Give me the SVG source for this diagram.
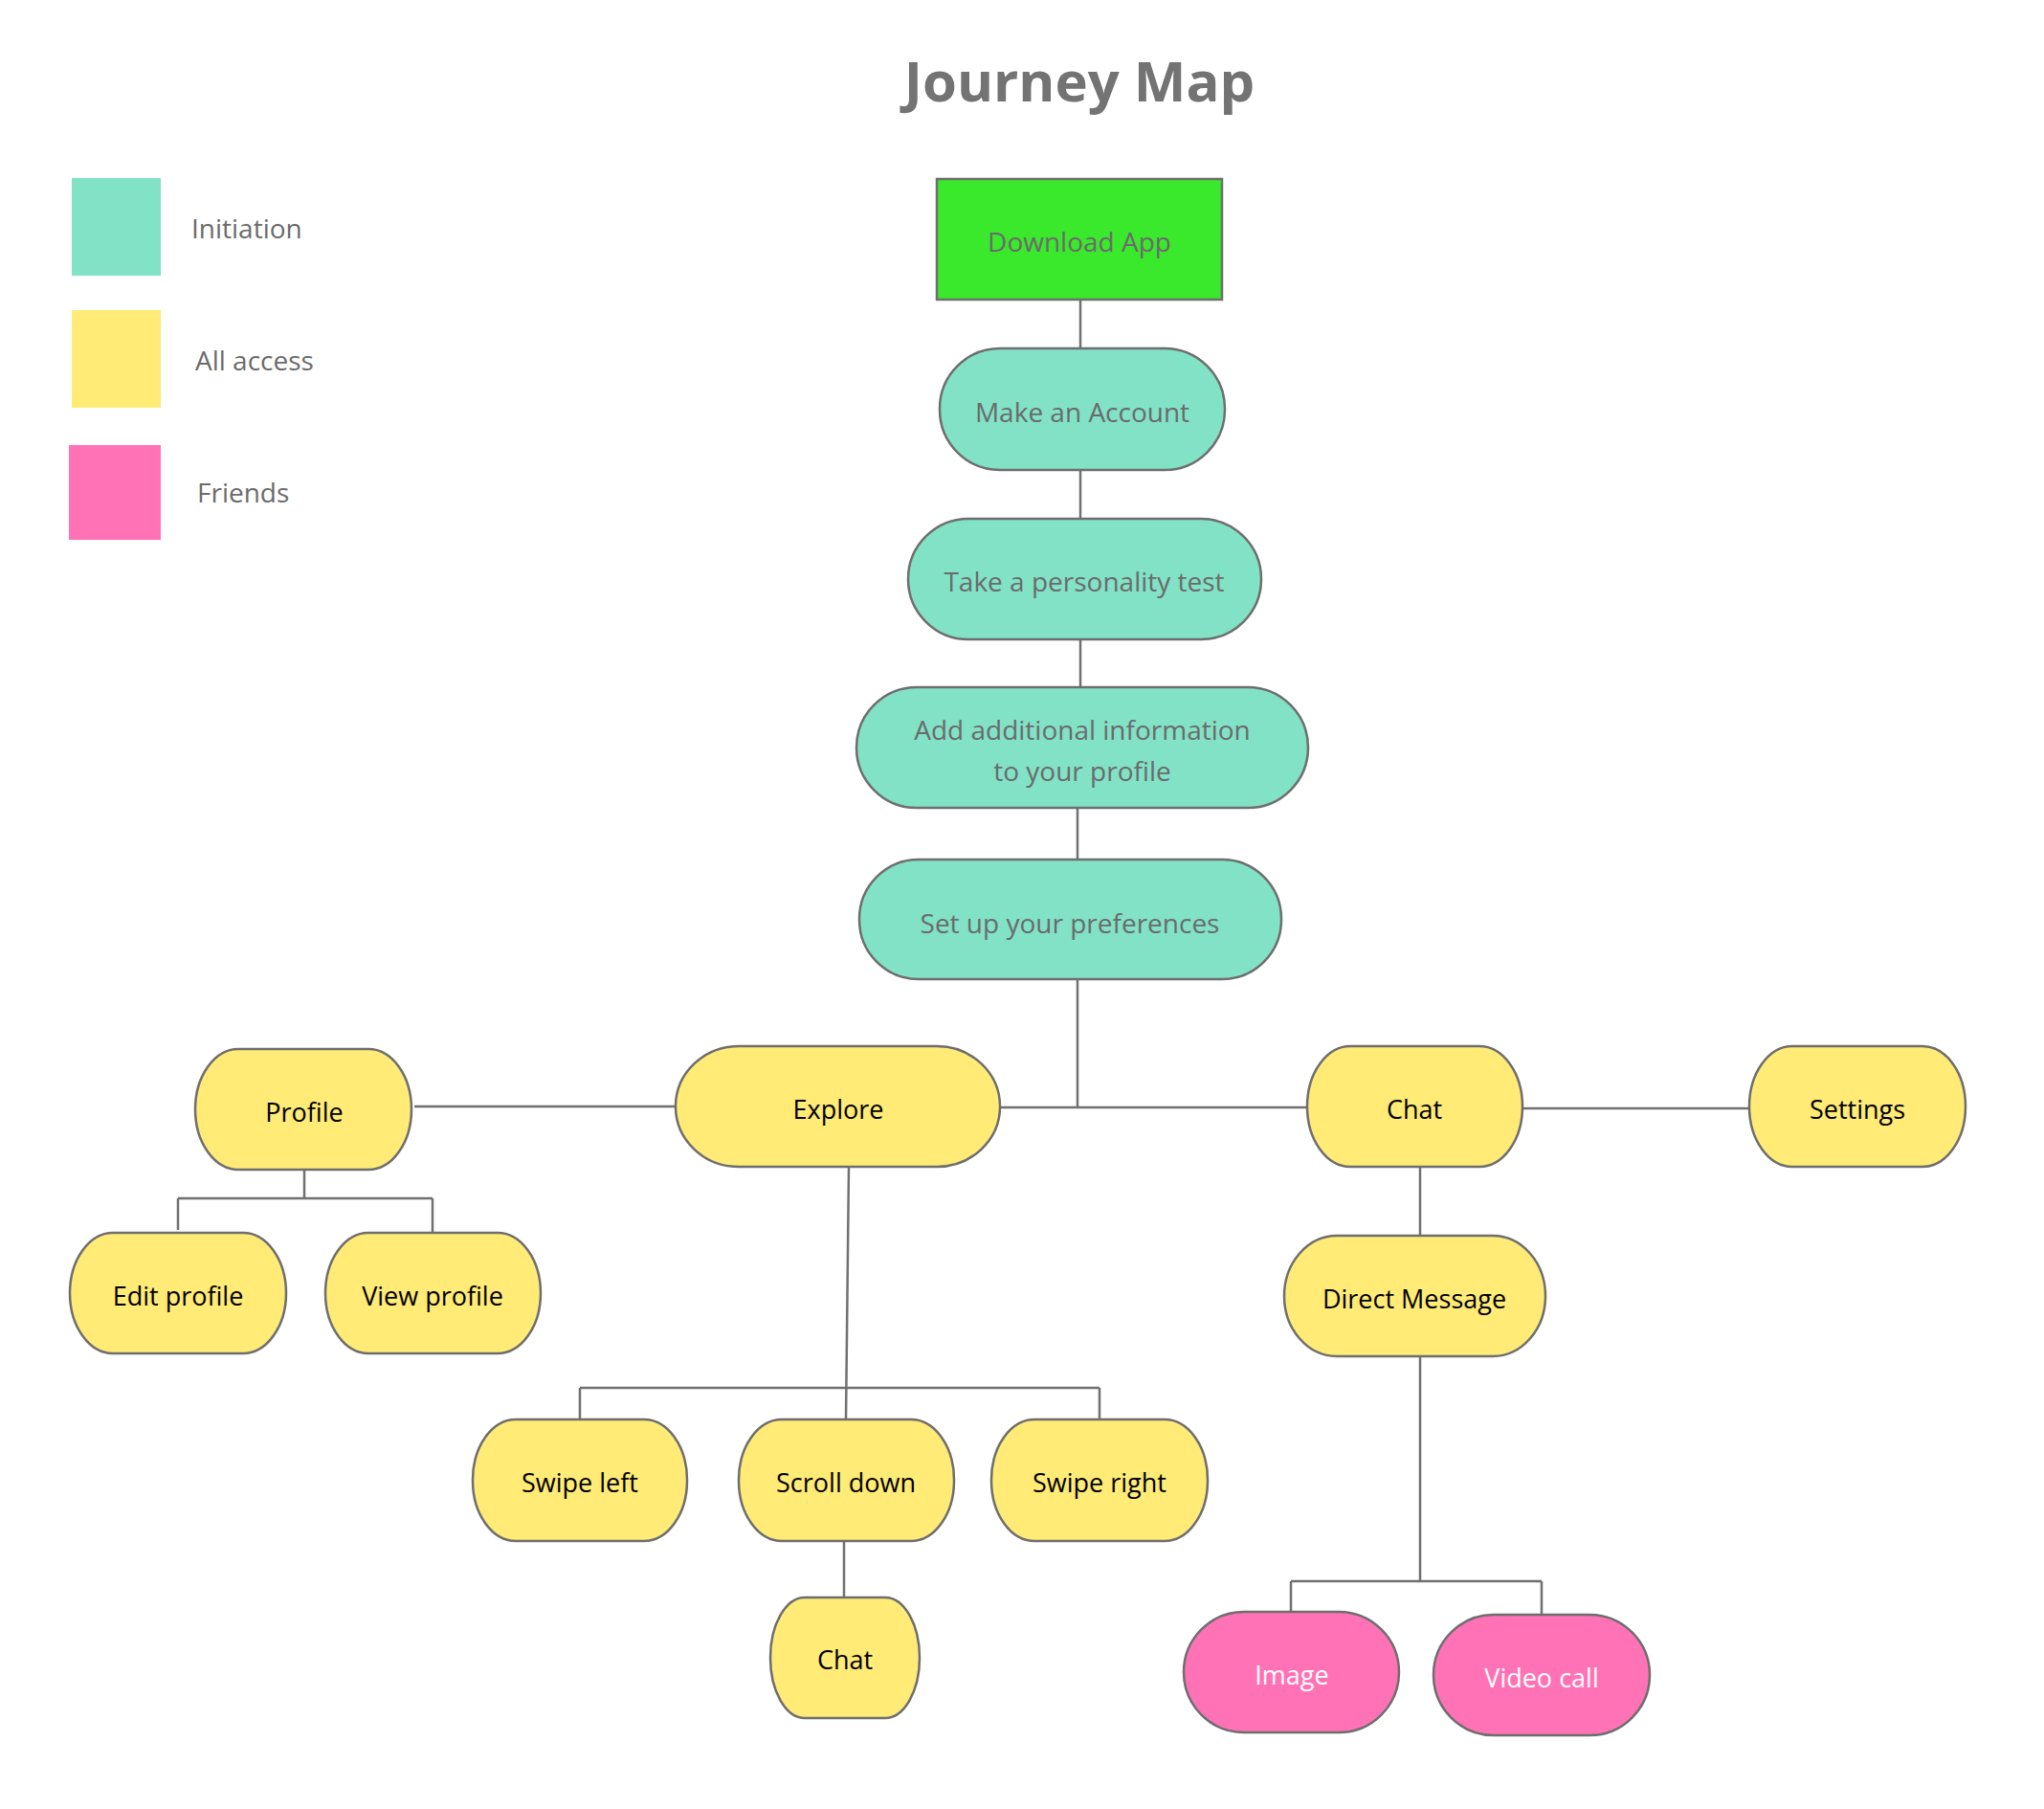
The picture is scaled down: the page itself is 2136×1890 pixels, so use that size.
<svg xmlns="http://www.w3.org/2000/svg" width="2136" height="1890" viewBox="0 0 2136 1890">
<style>
  text { font-family: "Segoe UI", "Open Sans", "Noto Sans", sans-serif; text-anchor: middle; }
  .title { font-size: 58px; font-weight: bold; fill: #737373; }
  .leg { font-size: 28px; fill: #6b6b6b; text-anchor: start; }
  .node { stroke: #6e6e6e; stroke-width: 2.5; }
  .teal { fill: #81E2C6; }
  .yellow { fill: #FFEB75; }
  .pink { fill: #FF72B6; }
  .green { fill: #3AE82C; }
  .t { font-size: 27px; }
  .tg { fill: #6b6b6b; font-size: 28px; }
  .tb { fill: #000000; }
  .tw { fill: #ffffff; }
  .conn { fill: none; stroke: #707070; stroke-width: 2.5; }
</style>
<rect x="0" y="0" width="2136" height="1890" fill="#ffffff"/>
<text class="title" x="1128" y="106">Journey Map</text>
<g id="legend">
  <rect x="75" y="186" width="93" height="102" class="teal"/>
  <text class="leg" x="200" y="249">Initiation</text>
  <rect x="75" y="324" width="93" height="102" class="yellow"/>
  <text class="leg" x="204" y="387">All access</text>
  <rect x="72" y="465" width="96" height="99" class="pink"/>
  <text class="leg" x="206" y="525">Friends</text>
</g>
<g id="connectors">
  <path class="conn" d="M1129,313 V364"/>
  <path class="conn" d="M1129,491 V542"/>
  <path class="conn" d="M1129,668 V718"/>
  <path class="conn" d="M1126,844 V898"/>
  <path class="conn" d="M1126,1023 V1157"/>
  <path class="conn" d="M1045,1157 H1366"/>
  <path class="conn" d="M433,1156 H706"/>
  <path class="conn" d="M1591,1158 H1828"/>
  <path class="conn" d="M318,1222 V1252 M186,1252 H452 M186,1252 V1285 M452,1252 V1288"/>
  <path class="conn" d="M887,1219 L884,1483 M606,1450 H1149 M606,1450 V1483 M1149,1450 V1483"/>
  <path class="conn" d="M882,1610 V1669"/>
  <path class="conn" d="M1484,1219 V1291"/>
  <path class="conn" d="M1484,1417 V1652 M1349,1652 H1611 M1349,1652 V1685 M1611,1652 V1687"/>
</g>
<g id="download">
  <rect class="node green" x="979" y="187" width="298" height="126"/>
  <text class="t tg" x="1128" y="263">Download App</text>
</g>
<g id="make-account">
  <rect class="node teal" x="982" y="364" width="298" height="127" rx="63" ry="63"/>
  <text class="t tg" x="1131" y="441">Make an Account</text>
</g>
<g id="personality-test">
  <rect class="node teal" x="949" y="542" width="369" height="126" rx="63" ry="63"/>
  <text class="t tg" x="1133" y="618">Take a personality test</text>
</g>
<g id="additional-info">
  <rect class="node teal" x="895" y="718" width="472" height="126" rx="63" ry="63"/>
  <text class="t tg" x="1131" y="773">Add additional information</text>
  <text class="t tg" x="1131" y="816">to your profile</text>
</g>
<g id="preferences">
  <rect class="node teal" x="898" y="898" width="441" height="125" rx="62" ry="62"/>
  <text class="t tg" x="1118" y="975">Set up your preferences</text>
</g>
<g id="profile">
  <rect class="node yellow" x="204" y="1096" width="226" height="126" rx="45" ry="63"/>
  <text class="t tb" x="318" y="1172">Profile</text>
</g>
<g id="explore">
  <rect class="node yellow" x="706" y="1093" width="339" height="126" rx="66" ry="63"/>
  <text class="t tb" x="876" y="1169">Explore</text>
</g>
<g id="chat">
  <rect class="node yellow" x="1366" y="1093" width="225" height="126" rx="45" ry="63"/>
  <text class="t tb" x="1478" y="1169">Chat</text>
</g>
<g id="settings">
  <rect class="node yellow" x="1828" y="1093" width="226" height="126" rx="45" ry="63"/>
  <text class="t tb" x="1941" y="1169">Settings</text>
</g>
<g id="edit-profile">
  <rect class="node yellow" x="73" y="1288" width="226" height="126" rx="45" ry="63"/>
  <text class="t tb" x="186" y="1364">Edit profile</text>
</g>
<g id="view-profile">
  <rect class="node yellow" x="340" y="1288" width="225" height="126" rx="45" ry="63"/>
  <text class="t tb" x="452" y="1364">View profile</text>
</g>
<g id="direct-message">
  <rect class="node yellow" x="1342" y="1291" width="273" height="126" rx="55" ry="63"/>
  <text class="t tb" x="1478" y="1367">Direct Message</text>
</g>
<g id="swipe-left">
  <rect class="node yellow" x="494" y="1483" width="224" height="127" rx="45" ry="63"/>
  <text class="t tb" x="606" y="1559">Swipe left</text>
</g>
<g id="scroll-down">
  <rect class="node yellow" x="772" y="1483" width="225" height="127" rx="45" ry="63"/>
  <text class="t tb" x="884" y="1559">Scroll down</text>
</g>
<g id="swipe-right">
  <rect class="node yellow" x="1036" y="1483" width="226" height="127" rx="45" ry="63"/>
  <text class="t tb" x="1149" y="1559">Swipe right</text>
</g>
<g id="chat-2">
  <rect class="node yellow" x="805" y="1669" width="156" height="126" rx="36" ry="63"/>
  <text class="t tb" x="883" y="1744">Chat</text>
</g>
<g id="image">
  <rect class="node pink" x="1237" y="1684" width="225" height="126" rx="63" ry="63"/>
  <text class="t tw" x="1350" y="1760">Image</text>
</g>
<g id="video-call">
  <rect class="node pink" x="1498" y="1687" width="226" height="126" rx="63" ry="63"/>
  <text class="t tw" x="1611" y="1763">Video call</text>
</g>
</svg>
